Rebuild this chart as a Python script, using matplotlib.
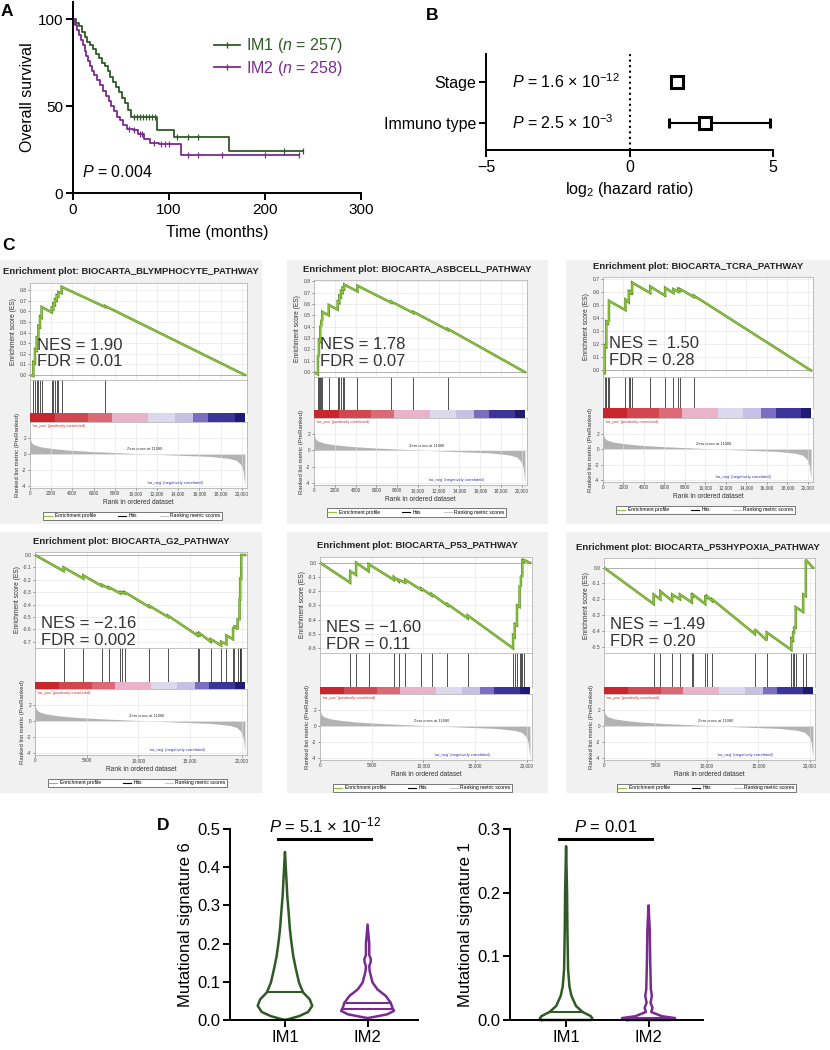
import numpy as np
import matplotlib.pyplot as plt
from matplotlib.lines import Line2D
from matplotlib.patches import Rectangle

plt.rcParams["font.family"] = ["Liberation Sans", "DejaVu Sans"]
plt.rcParams["mathtext.fontset"] = "custom"
plt.rcParams["mathtext.rm"] = "Liberation Sans"
plt.rcParams["mathtext.it"] = "Liberation Sans:italic"
plt.rcParams["mathtext.bf"] = "Liberation Sans:bold"

GREEN = "#2f5a26"
PURPLE = "#7a2b90"
ES_GREEN = "#8cc43c"
BOX_GRAY = "#f1f1f1"

# ── Data: A, Kaplan-Meier ──────────────────────────────────────────────────────

im1_t = [0, 3, 6, 9, 12, 15, 18, 21, 24, 27, 30, 33, 36, 39, 42, 45, 48, 51, 54, 57, 60, 88, 105, 163]
im1_s = [100, 98, 96, 93, 90, 87, 85, 83, 80, 78, 75, 73, 70, 67, 64, 61, 58, 55, 52, 48, 44, 36, 32, 24]
im1_end = 240
im1_cens = [64, 67, 70, 73, 76, 79, 82, 85, 108, 120, 130, 220, 240]

im2_t = [0, 2, 4, 6, 8, 10, 12, 14, 16, 18, 20, 22, 25, 28, 31, 34, 37, 40, 43, 46, 49, 52, 56, 62,
         68, 74, 80, 90, 112]
im2_s = [100, 97, 94, 91, 88, 85, 82, 79, 76, 73, 70, 68, 65, 62, 59, 56, 53, 50, 47, 44, 42, 39, 37,
         36, 34, 31, 29, 28, 22]
im2_end = 235
im2_cens = [58, 64, 70, 72, 84, 92, 96, 100, 120, 130, 155, 200, 235]

# ── Data: B, hazard ratios ─────────────────────────────────────────────────────

hr_labels = ["Stage", "Immuno type"]
hr_log2 = [1.65, 2.63]
hr_low = [1.45, 1.38]
hr_high = [1.85, 4.90]
hr_p = [r"$\mathit{P}$ = 1.6 × 10$^{-12}$", r"$\mathit{P}$ = 2.5 × 10$^{-3}$"]

# ── Data: C, GSEA ──────────────────────────────────────────────────────────────

N_GENES = 20300

rank_x = [0, 50, 150, 400, 1000, 2000, 3500, 6000, 8500, 11080, 14000, 17000, 18800, 19500,
          19900, 20150, 20300]
rank_y = [2.6, 1.8, 1.4, 1.15, 0.9, 0.7, 0.5, 0.3, 0.15, 0.0, -0.15, -0.3, -0.55, -0.8,
          -1.3, -2.2, -4.0]

bar_bounds = [0, 2360, 5510, 7720, 11180, 13700, 15430, 16850, 19370, 20300]
bar_colors = ["#c8262f", "#d24650", "#dc6a75", "#e9b3c9", "#dcd9ee", "#c5c0e4",
              "#7a6dc2", "#3a3597", "#201b72"]

blymph_hits = [315, 470, 630, 790, 945, 1100, 2050, 2200, 2360, 2520, 2680, 2990, 7090]
blymph_before = [-0.01, 0.11, 0.23, 0.34, 0.45, 0.54, 0.59, 0.62, 0.66, 0.70, 0.74, 0.77, 0.64]
blymph_after = [0.12, 0.24, 0.35, 0.46, 0.55, 0.64, 0.63, 0.67, 0.71, 0.75, 0.78, 0.83, 0.65]

asbcell_hits = [380, 475, 600, 700, 790, 1420, 2280, 2440, 2600, 2750, 2910, 4180, 7440, 9560, 12880]
asbcell_before = [-0.02, 0.14, 0.27, 0.40, 0.45, 0.50, 0.55, 0.61, 0.66, 0.70, 0.73, 0.71, 0.61,
                  0.52, 0.37]
asbcell_after = [0.15, 0.28, 0.41, 0.46, 0.53, 0.59, 0.62, 0.67, 0.71, 0.74, 0.77, 0.76, 0.62,
                 0.53, 0.38]

tcra_hits = [160, 320, 480, 580, 2190, 2520, 2680, 2840, 4610, 6060, 6870, 7350, 7520, 8870]
tcra_before = [-0.03, 0.18, 0.36, 0.37, 0.46, 0.52, 0.59, 0.59, 0.59, 0.57, 0.59, 0.60, 0.61, 0.56]
tcra_after = [0.19, 0.37, 0.38, 0.53, 0.54, 0.60, 0.60, 0.67, 0.64, 0.63, 0.62, 0.62, 0.62, 0.57]

g2_hits = [2760, 4670, 6450, 7140, 8250, 8410, 8670, 11050, 12860, 15720, 15880, 16990, 18000,
           18510, 19150, 19270, 19590, 19780, 19840, 19940]
g2_before = [-0.13, -0.19, -0.25, -0.27, -0.31, -0.305, -0.31, -0.42, -0.50, -0.65, -0.645, -0.70,
             -0.73, -0.72, -0.68, -0.585, -0.60, -0.52, -0.36, -0.19]
g2_after = [-0.10, -0.165, -0.24, -0.26, -0.30, -0.30, -0.30, -0.41, -0.49, -0.635, -0.63, -0.68,
            -0.70, -0.65, -0.59, -0.57, -0.52, -0.36, -0.19, 0.0]

p53_hits = [2920, 3490, 4700, 7140, 7620, 8250, 9780, 10800, 12320, 14290, 18670, 18830, 19050,
            19300, 19430, 19560, 19690]
p53_before = [-0.14, -0.085, -0.06, -0.12, -0.13, -0.14, -0.19, -0.23, -0.30, -0.39, -0.60, -0.52,
              -0.44, -0.31, -0.17, -0.10, 0.01]
p53_after = [-0.06, 0.0, -0.01, -0.10, -0.12, -0.12, -0.18, -0.22, -0.29, -0.37, -0.51, -0.43,
             -0.30, -0.16, -0.09, 0.015, 0.02]

hypox_hits = [4820, 5480, 6630, 7380, 8530, 8630, 9840, 10000, 10500, 14660, 15810, 18200, 18370,
              18470, 18630, 19350, 19610]
hypox_before = [-0.23, -0.20, -0.21, -0.20, -0.22, -0.18, -0.23, -0.19, -0.21, -0.42, -0.46, -0.52,
                -0.46, -0.41, -0.38, -0.28, -0.18]
hypox_after = [-0.17, -0.15, -0.17, -0.17, -0.175, -0.17, -0.185, -0.18, -0.20, -0.39, -0.41,
               -0.45, -0.41, -0.38, -0.25, -0.17, 0.05]

# ── Data: D, violin outlines (value, half width) ───────────────────────────────

sig6_im1_y = [0.0, 0.004, 0.01, 0.021, 0.037, 0.054, 0.072, 0.098, 0.133, 0.168, 0.20, 0.237,
              0.28, 0.325, 0.38, 0.44]
sig6_im1_w = [0.0, 0.07, 0.17, 0.28, 0.33, 0.30, 0.22, 0.17, 0.133, 0.10, 0.08, 0.06, 0.045,
              0.028, 0.015, 0.0]
sig6_im2_y = [0.005, 0.009, 0.015, 0.024, 0.032, 0.045, 0.063, 0.080, 0.098, 0.115, 0.128, 0.141,
              0.150, 0.159, 0.170, 0.20, 0.25]
sig6_im2_w = [0.0, 0.10, 0.24, 0.32, 0.30, 0.28, 0.22, 0.12, 0.06, 0.04, 0.025, 0.02, 0.035,
              0.04, 0.02, 0.02, 0.0]
sig6_medians = [[0.072], [0.045, 0.028]]

sig1_im1_y = [0.0, 0.002, 0.006, 0.0126, 0.022, 0.038, 0.053, 0.080, 0.142, 0.20, 0.273]
sig1_im1_w = [0.30, 0.32, 0.30, 0.20, 0.12, 0.065, 0.04, 0.024, 0.016, 0.012, 0.0]
sig1_im2_y = [0.0, 0.003, 0.006, 0.0126, 0.019, 0.027, 0.038, 0.048, 0.09, 0.14, 0.18]
sig1_im2_w = [0.26, 0.32, 0.16, 0.032, 0.048, 0.024, 0.04, 0.028, 0.02, 0.015, 0.0]
sig1_medians = [[0.0126], [0.003]]

# ── Figure helpers ─────────────────────────────────────────────────────────────

W, H = 830, 1050
fig = plt.figure(figsize=(W / 100, H / 100), dpi=100)


def px_axes(left, top, right, bottom):
    return fig.add_axes([left / W, 1 - bottom / H, (right - left) / W, (bottom - top) / H])


def prism_style(ax, fs=11):
    for side in ["top", "right"]:
        ax.spines[side].set_visible(False)
    for side in ["left", "bottom"]:
        ax.spines[side].set_linewidth(1.4)
    ax.tick_params(direction="out", length=5, width=1.4, labelsize=fs, pad=2)


def letter(x, y, s):
    fig.text(x / W, 1 - y / H, s, fontsize=12.5, fontweight="bold", ha="center", va="center")


# ── A: Kaplan-Meier ────────────────────────────────────────────────────────────

ax = px_axes(73, 2, 361, 193)
for t, s, end, cens, color in [(im1_t, im1_s, im1_end, im1_cens, GREEN),
                               (im2_t, im2_s, im2_end, im2_cens, PURPLE)]:
    ax.step(t + [end], s + [s[-1]], where="post", color=color, lw=1.3)
    idx = np.searchsorted(t, cens, side="right") - 1
    ax.plot(cens, np.array(s)[idx], ls="none", marker="|", ms=4, mew=0.9, color=color)
ax.set_xlim(0, 300)
ax.set_ylim(0, 110)
ax.set_xticks([0, 100, 200, 300])
ax.set_yticks([0, 50, 100])
prism_style(ax)
ax.set_xlabel("Time (months)", fontsize=11.5, labelpad=6)
ax.set_ylabel("Overall survival", fontsize=11.5, labelpad=2)
handles = [Line2D([], [], color=GREEN, lw=1.3, marker="|", ms=4),
           Line2D([], [], color=PURPLE, lw=1.3, marker="|", ms=4)]
leg = ax.legend(handles, [r"IM1 ($\mathit{n}$ = 257)", r"IM2 ($\mathit{n}$ = 258)"],
                loc="upper left", bbox_to_anchor=(0.49, 0.82), frameon=False, fontsize=11.5,
                handlelength=1.6, handletextpad=0.4, labelspacing=0.2, borderaxespad=0,
                borderpad=0)
for txt, c in zip(leg.get_texts(), [GREEN, PURPLE]):
    txt.set_color(c)
ax.text(0.03, 0.07, r"$\mathit{P}$ = 0.004", transform=ax.transAxes, fontsize=11.5, va="bottom")
letter(7, 12, "A")

# ── B: forest plot ─────────────────────────────────────────────────────────────

ax = px_axes(486, 54, 773, 150)
ypos = [2, 1]
for y, v, lo, hi, p in zip(ypos, hr_log2, hr_low, hr_high, hr_p):
    ax.errorbar(v, y, xerr=[[v - lo], [hi - v]], fmt="s", ms=8, mfc="white", mec="black",
                mew=2.2, ecolor="black", elinewidth=1.5, capsize=3.5, capthick=1.5)
    ax.text(-4.1, y, p, fontsize=11.5, ha="left", va="center")
ax.axvline(0, color="black", ls=":", lw=1.5)
ax.set_xlim(-5, 5)
ax.set_ylim(0.34, 2.68)
ax.set_xticks([-5, 0, 5])
ax.set_xticklabels(["−5", "0", "5"])
ax.set_yticks(ypos)
ax.set_yticklabels(hr_labels)
prism_style(ax, fs=11.5)
ax.set_xlabel(r"log$_2$ (hazard ratio)", fontsize=11.5, labelpad=4)
letter(432, 15, "B")

# ── C: GSEA panels ─────────────────────────────────────────────────────────────


def draw_gsea(box, lay, title, hits, before, after, es_ylim, es_ticks, xticks, xlabels,
              stats, text_y):
    x0, x1, y0, y1 = box
    fig.patches.append(Rectangle((x0 / W, 1 - y1 / H), (x1 - x0) / W, (y1 - y0) / H,
                                 transform=fig.transFigure, facecolor=BOX_GRAY,
                                 edgecolor="none", zorder=-5))
    L, R, es_t, es_b, hit_b, bar_b, rk_b = lay
    fig.text((x0 + x1) / 2 / W, 1 - (es_t - 11) / H, title, fontsize=6.8, fontweight="bold",
             ha="center", va="center", color="#222222")

    # running enrichment score
    ax_es = px_axes(L, es_t, R, es_b)
    ex, ey = [0], [0.0]
    for r, b, a in zip(hits, before, after):
        ex += [r, r]
        ey += [b, a]
    ex.append(N_GENES)
    ey.append(0.0)
    ax_es.axhline(0, color="#9a9a9a", lw=0.5)
    ax_es.plot(ex, ey, color="#5f8f2a", lw=1.8, solid_joinstyle="miter")
    ax_es.plot(ex, ey, color=ES_GREEN, lw=1.0, solid_joinstyle="miter")
    ax_es.set_xlim(0, 20500)
    ax_es.set_ylim(*es_ylim)
    ax_es.set_yticks(es_ticks)
    ax_es.set_yticklabels([f"{v:.1f}" for v in es_ticks])
    ax_es.set_xticks(xticks)
    ax_es.tick_params(axis="x", labelbottom=False, length=0)
    ax_es.tick_params(axis="y", length=1.5, width=0.4, labelsize=3.6, pad=1, colors="#444444")
    ax_es.set_ylabel("Enrichment score (ES)", fontsize=4.8, labelpad=1.5, color="#333333")
    ax_es.grid(color="#e2e2e2", lw=0.4)
    for sp in ax_es.spines.values():
        sp.set_color("#aaaaaa")
        sp.set_linewidth(0.5)
    ax_es.text(0.03, text_y, stats, transform=ax_es.transAxes, fontsize=12, va="bottom",
               ha="left", color="#333333", linespacing=1.15)

    # hit lines
    ax_h = px_axes(L, es_b, R, hit_b)
    ax_h.vlines(hits, 0, 1, color="#333333", lw=0.6)
    ax_h.set_xlim(0, 20500)
    ax_h.set_ylim(0, 1)
    ax_h.set_xticks([])
    ax_h.set_yticks([])
    for sp in ax_h.spines.values():
        sp.set_color("#aaaaaa")
        sp.set_linewidth(0.5)

    # ranked list colour bar
    ax_b = px_axes(L, hit_b, R, bar_b)
    for b0, b1, c in zip(bar_bounds[:-1], bar_bounds[1:], bar_colors):
        ax_b.axvspan(b0, b1, color=c, lw=0)
    ax_b.set_xlim(0, 20500)
    ax_b.set_xticks([])
    ax_b.set_yticks([])
    for sp in ax_b.spines.values():
        sp.set_visible(False)

    # ranked list metric
    ax_r = px_axes(L, bar_b, R, rk_b)
    ax_r.fill_between(rank_x, 0, rank_y, color="#b3b3b3", lw=0)
    ax_r.set_xlim(0, 20500)
    ax_r.set_ylim(-4.25, 4.0)
    ax_r.set_yticks([2, 0, -2, -4])
    ax_r.set_yticklabels(["2", "0", "-2", "-4"])
    ax_r.set_xticks(xticks)
    ax_r.set_xticklabels(xlabels)
    ax_r.tick_params(length=1.5, width=0.4, labelsize=3.4, pad=1, colors="#444444")
    ax_r.set_xlabel("Rank in ordered dataset", fontsize=4.8, labelpad=1.5, color="#333333")
    ax_r.set_ylabel("Ranked list metric (PreRanked)", fontsize=4.3, labelpad=1.5,
                    color="#333333")
    ax_r.grid(color="#e2e2e2", lw=0.4)
    for sp in ax_r.spines.values():
        sp.set_color("#aaaaaa")
        sp.set_linewidth(0.5)
    ax_r.text(200, 3.75, "'na_pos' (positively correlated)", fontsize=2.9, color="#cc3333",
              va="top")
    ax_r.text(10800, 0.35, "Zero cross at 11080", fontsize=2.9, color="#333333", ha="center",
              va="bottom")
    ax_r.text(13700, -3.6, "'na_neg' (negatively correlated)", fontsize=2.9, color="#3333aa",
              ha="center", va="center")
    h = [Line2D([], [], color=ES_GREEN, lw=0.8), Line2D([], [], color="black", lw=0.8),
         Line2D([], [], color="#c8c8c8", lw=0.8)]
    lg = ax_r.legend(h, ["Enrichment profile", "Hits", "Ranking metric scores"],
                     loc="upper left", bbox_to_anchor=((L + 10) / W, 1 - (rk_b + 21) / H),
                     bbox_transform=fig.transFigure, ncol=3, fontsize=3.6, frameon=True,
                     fancybox=False, edgecolor="#444444", framealpha=1, borderpad=0.35,
                     handlelength=1.6, handletextpad=0.5, columnspacing=4.5)
    lg.get_frame().set_linewidth(0.5)


top_ticks = [0, 2000, 4000, 6000, 8000, 10000, 12000, 14000, 16000, 18000, 20000]
top_labels = ["0", "2000", "4000", "6000", "8000", "10,000", "12,000", "14,000", "16,000",
              "18,000", "20,000"]
bot_ticks = [0, 5000, 10000, 15000, 20000]
bot_labels = ["0", "5000", "10,000", "15,000", "20,000"]

draw_gsea((0, 262, 260, 524), (30, 247, 283, 380, 413, 422, 488),
          "Enrichment plot: BIOCARTA_BLYMPHOCYTE_PATHWAY",
          blymph_hits, blymph_before, blymph_after, (-0.047, 0.866),
          [0.0, 0.1, 0.2, 0.3, 0.4, 0.5, 0.6, 0.7, 0.8], top_ticks, top_labels,
          "NES = 1.90\nFDR = 0.01", 0.11)
draw_gsea((287, 548, 260, 524), (314, 527, 280, 377, 410, 418, 485),
          "Enrichment plot: BIOCARTA_ASBCELL_PATHWAY",
          asbcell_hits, asbcell_before, asbcell_after, (-0.043, 0.81),
          [0.0, 0.1, 0.2, 0.3, 0.4, 0.5, 0.6, 0.7, 0.8], top_ticks, top_labels,
          "NES = 1.78\nFDR = 0.07", 0.08)
draw_gsea((566, 830, 260, 524), (603, 813, 277, 377, 408, 418, 482),
          "Enrichment plot: BIOCARTA_TCRA_PATHWAY",
          tcra_hits, tcra_before, tcra_after, (-0.05, 0.712),
          [0.0, 0.1, 0.2, 0.3, 0.4, 0.5, 0.6, 0.7], top_ticks, top_labels,
          "NES =  1.50\nFDR = 0.28", 0.09)
draw_gsea((0, 262, 532, 793), (35, 247, 552, 648, 682, 689, 755),
          "Enrichment plot: BIOCARTA_G2_PATHWAY",
          g2_hits, g2_before, g2_after, (-0.751, 0.024),
          [0.0, -0.1, -0.2, -0.3, -0.4, -0.5, -0.6, -0.7], bot_ticks, bot_labels,
          "NES = −2.16\nFDR = 0.002", 0.0)
draw_gsea((287, 548, 532, 793), (320, 532, 557, 653, 687, 694, 760),
          "Enrichment plot: BIOCARTA_P53_PATHWAY",
          p53_hits, p53_before, p53_after, (-0.633, 0.04),
          [0.0, -0.1, -0.2, -0.3, -0.4, -0.5, -0.6], bot_ticks, bot_labels,
          "NES = −1.60\nFDR = 0.11", 0.01)
draw_gsea((566, 830, 532, 793), (604, 815, 558, 653, 687, 694, 760),
          "Enrichment plot: BIOCARTA_P53HYPOXIA_PATHWAY",
          hypox_hits, hypox_before, hypox_after, (-0.54, 0.061),
          [0.0, -0.1, -0.2, -0.3, -0.4, -0.5], bot_ticks, bot_labels,
          "NES = −1.49\nFDR = 0.20", 0.04)
letter(8, 245, "C")

# ── D: violins ─────────────────────────────────────────────────────────────────


def draw_violin(ax, center, ys, ws, color, medians):
    ys = np.array(ys)
    ws = np.array(ws)
    xs = np.r_[center - ws, (center + ws)[::-1], center - ws[0]]
    yy = np.r_[ys, ys[::-1], ys[0]]
    ax.plot(xs, yy, color=color, lw=1.8, solid_joinstyle="round", clip_on=False)
    for m in medians:
        w = np.interp(m, ys, ws)
        ax.plot([center - w, center + w], [m, m], color=color, lw=1.5)


for (L, R, xlim, ymax, yticks, ylab, shapes, meds, ptxt, pbar_y) in [
        (230, 418, (0.335, 2.61), 0.5, [0.0, 0.1, 0.2, 0.3, 0.4, 0.5], "Mutational signature 6",
         [(sig6_im1_y, sig6_im1_w), (sig6_im2_y, sig6_im2_w)], sig6_medians,
         r"$\mathit{P}$ = 5.1 × 10$^{-12}$", 0.474),
        (510, 703, (0.32, 2.66), 0.3, [0.0, 0.1, 0.2, 0.3], "Mutational signature 1",
         [(sig1_im1_y, sig1_im1_w), (sig1_im2_y, sig1_im2_w)], sig1_medians,
         r"$\mathit{P}$ = 0.01", 0.284)]:
    ax = px_axes(L, 829, R, 1020)
    for i, ((ys, ws), color, m) in enumerate(zip(shapes, [GREEN, PURPLE], meds)):
        draw_violin(ax, i + 1, ys, ws, color, m)
    ax.plot([0.915, 2.04], [pbar_y, pbar_y], color="black", lw=2.2, clip_on=False)
    ax.text(1.48, pbar_y + 0.02 * ymax, ptxt, fontsize=12, ha="center", va="bottom")
    ax.set_xlim(*xlim)
    ax.set_ylim(0, ymax)
    ax.set_yticks(yticks)
    ax.set_yticklabels([f"{v:.1f}" for v in yticks])
    ax.set_xticks([1, 2])
    ax.set_xticklabels(["IM1", "IM2"])
    prism_style(ax, fs=12)
    ax.set_ylabel(ylab, fontsize=12, labelpad=3)
letter(163, 826, "D")

fig.savefig("out.png", dpi=100)
